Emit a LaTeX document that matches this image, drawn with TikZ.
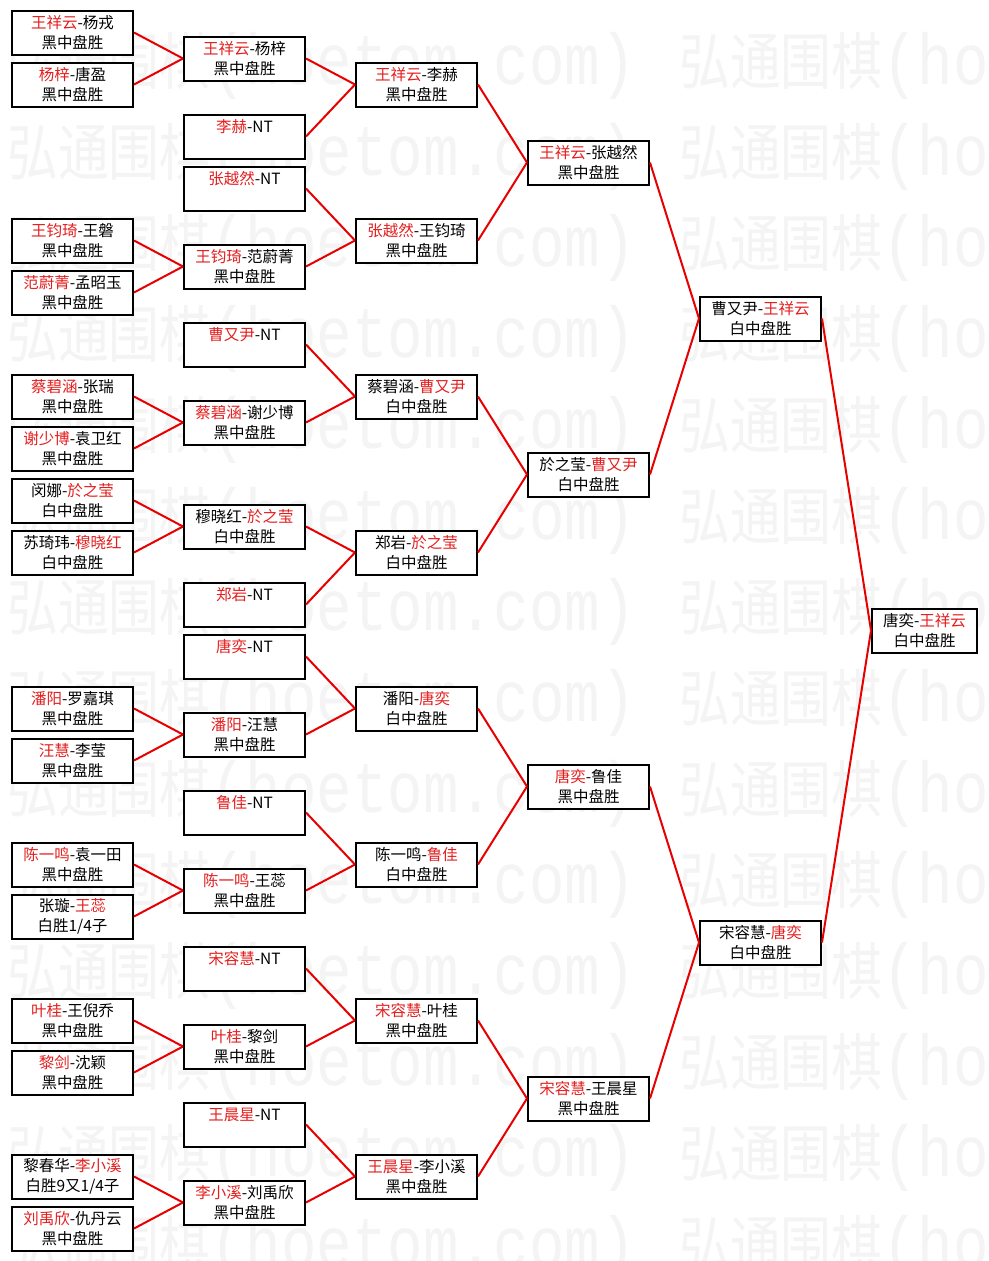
\documentclass[tikz,border=0pt]{standalone}
\usepackage{fontspec}
\setmainfont{Noto Sans CJK SC}
\newfontfamily\wmcjk{Noto Sans CJK SC}
\newfontfamily\wmmono{Liberation Mono}
\definecolor{wred}{RGB}{228,30,30}
\definecolor{lred}{RGB}{232,0,0}
\definecolor{wmgray}{RGB}{244,244,244}
\newcommand\W[1]{{\color{wred}#1}}
\newcommand\wmtext{\scalebox{0.82}[1]{\wmcjk\fontsize{62}{62}\selectfont 弘通围棋\wmmono\fontsize{72}{72}\selectfont(hoetom.com)}}
\newcommand\NTgap{\\\phantom{黑中盘胜}}
\begin{document}
\begin{tikzpicture}[x=1pt,y=-1pt,
  bx/.style={draw=black, line width=2pt, fill=white, minimum width=121pt, minimum height=44pt,
    inner sep=0pt, align=center, font=\fontsize{15.5}{19.5}\selectfont,
    execute at begin node={\rule{0pt}{17.5pt}}},
  bxn/.style={bx, minimum width=105pt},
  ln/.style={draw=lred, line width=2pt},
  wm/.style={text=wmgray, inner sep=0pt, anchor=west}]
\useasboundingbox (0,0) rectangle (988,1261);
\fill[white] (0,0) rectangle (988,1261);
\begin{scope}
\clip (0,0) rectangle (988,1261);
\foreach \i in {0,...,13} {
  \node[wm] (wa\i) at (7,{65.5+91*\i}) {\wmtext};
  \node[wm] (wb\i) at (679,{65.5+91*\i}) {\wmtext};
}
\end{scope}
% column 1
\node[bx] (a0)  at (72.5,32.5)   {\W{王祥云}-杨戎\\黑中盘胜};
\node[bx] (a1)  at (72.5,84.5)   {\W{杨梓}-唐盈\\黑中盘胜};
\node[bx] (a4)  at (72.5,240.5)  {\W{王钧琦}-王磐\\黑中盘胜};
\node[bx] (a5)  at (72.5,292.5)  {\W{范蔚菁}-孟昭玉\\黑中盘胜};
\node[bx] (a7)  at (72.5,396.5)  {\W{蔡碧涵}-张瑞\\黑中盘胜};
\node[bx] (a8)  at (72.5,448.5)  {\W{谢少博}-袁卫红\\黑中盘胜};
\node[bx] (a9)  at (72.5,500.5)  {闵娜-\W{於之莹}\\白中盘胜};
\node[bx] (a10) at (72.5,552.5)  {苏琦玮-\W{穆晓红}\\白中盘胜};
\node[bx] (a13) at (72.5,708.5)  {\W{潘阳}-罗嘉琪\\黑中盘胜};
\node[bx] (a14) at (72.5,760.5)  {\W{汪慧}-李莹\\黑中盘胜};
\node[bx] (a16) at (72.5,864.5)  {\W{陈一鸣}-袁一田\\黑中盘胜};
\node[bx] (a17) at (72.5,916.5)  {张璇-\W{王蕊}\\白胜1/4子};
\node[bx] (a19) at (72.5,1020.5) {\W{叶桂}-王倪乔\\黑中盘胜};
\node[bx] (a20) at (72.5,1072.5) {\W{黎剑}-沈颖\\黑中盘胜};
\node[bx] (a22) at (72.5,1176.5) {黎春华-\W{李小溪}\\白胜9又1/4子};
\node[bx] (a23) at (72.5,1228.5) {\W{刘禹欣}-仇丹云\\黑中盘胜};
% column 2
\node[bx] (b0)  at (244.5,58.5)   {\W{王祥云}-杨梓\\黑中盘胜};
\node[bx] (b2)  at (244.5,136.5)  {\W{李赫}-NT\NTgap};
\node[bx] (b3)  at (244.5,188.5)  {\W{张越然}-NT\NTgap};
\node[bx] (b4)  at (244.5,266.5)  {\W{王钧琦}-范蔚菁\\黑中盘胜};
\node[bx] (b6)  at (244.5,344.5)  {\W{曹又尹}-NT\NTgap};
\node[bx] (b7)  at (244.5,422.5)  {\W{蔡碧涵}-谢少博\\黑中盘胜};
\node[bx] (b9)  at (244.5,526.5)  {穆晓红-\W{於之莹}\\白中盘胜};
\node[bx] (b11) at (244.5,604.5)  {\W{郑岩}-NT\NTgap};
\node[bx] (b12) at (244.5,656.5)  {\W{唐奕}-NT\NTgap};
\node[bx] (b13) at (244.5,734.5)  {\W{潘阳}-汪慧\\黑中盘胜};
\node[bx] (b15) at (244.5,812.5)  {\W{鲁佳}-NT\NTgap};
\node[bx] (b16) at (244.5,890.5)  {\W{陈一鸣}-王蕊\\黑中盘胜};
\node[bx] (b18) at (244.5,968.5)  {\W{宋容慧}-NT\NTgap};
\node[bx] (b19) at (244.5,1046.5) {\W{叶桂}-黎剑\\黑中盘胜};
\node[bx] (b21) at (244.5,1124.5) {\W{王晨星}-NT\NTgap};
\node[bx] (b22) at (244.5,1202.5) {\W{李小溪}-刘禹欣\\黑中盘胜};
% column 3
\node[bx] (c1)  at (416.5,84.5)   {\W{王祥云}-李赫\\黑中盘胜};
\node[bx] (c4)  at (416.5,240.5)  {\W{张越然}-王钧琦\\黑中盘胜};
\node[bx] (c7)  at (416.5,396.5)  {蔡碧涵-\W{曹又尹}\\白中盘胜};
\node[bx] (c10) at (416.5,552.5)  {郑岩-\W{於之莹}\\白中盘胜};
\node[bx] (c13) at (416.5,708.5)  {潘阳-\W{唐奕}\\白中盘胜};
\node[bx] (c16) at (416.5,864.5)  {陈一鸣-\W{鲁佳}\\白中盘胜};
\node[bx] (c19) at (416.5,1020.5) {\W{宋容慧}-叶桂\\黑中盘胜};
\node[bx] (c22) at (416.5,1176.5) {\W{王晨星}-李小溪\\黑中盘胜};
% column 4
\node[bx] (d2)  at (588.5,162.5)  {\W{王祥云}-张越然\\黑中盘胜};
\node[bx] (d8)  at (588.5,474.5)  {於之莹-\W{曹又尹}\\白中盘胜};
\node[bx] (d14) at (588.5,786.5)  {\W{唐奕}-鲁佳\\黑中盘胜};
\node[bx] (d20) at (588.5,1098.5) {\W{宋容慧}-王晨星\\黑中盘胜};
% column 5
\node[bx] (e5)  at (760.5,318.5)  {曹又尹-\W{王祥云}\\白中盘胜};
\node[bx] (e17) at (760.5,942.5)  {宋容慧-\W{唐奕}\\白中盘胜};
% column 6
\node[bxn] (f)  at (924.5,630.5)  {唐奕-\W{王祥云}\\白中盘胜};
% connectors
\foreach \s/\t in {a0/b0,a1/b0,a4/b4,a5/b4,a7/b7,a8/b7,a9/b9,a10/b9,
  a13/b13,a14/b13,a16/b16,a17/b16,a19/b19,a20/b19,a22/b22,a23/b22,
  b0/c1,b2/c1,b3/c4,b4/c4,b6/c7,b7/c7,b9/c10,b11/c10,
  b12/c13,b13/c13,b15/c16,b16/c16,b18/c19,b19/c19,b21/c22,b22/c22,
  c1/d2,c4/d2,c7/d8,c10/d8,c13/d14,c16/d14,c19/d20,c22/d20,
  d2/e5,d8/e5,d14/e17,d20/e17,e5/f,e17/f}
  \draw[ln] (\s.east) -- (\t.west);
\end{tikzpicture}
\end{document}
